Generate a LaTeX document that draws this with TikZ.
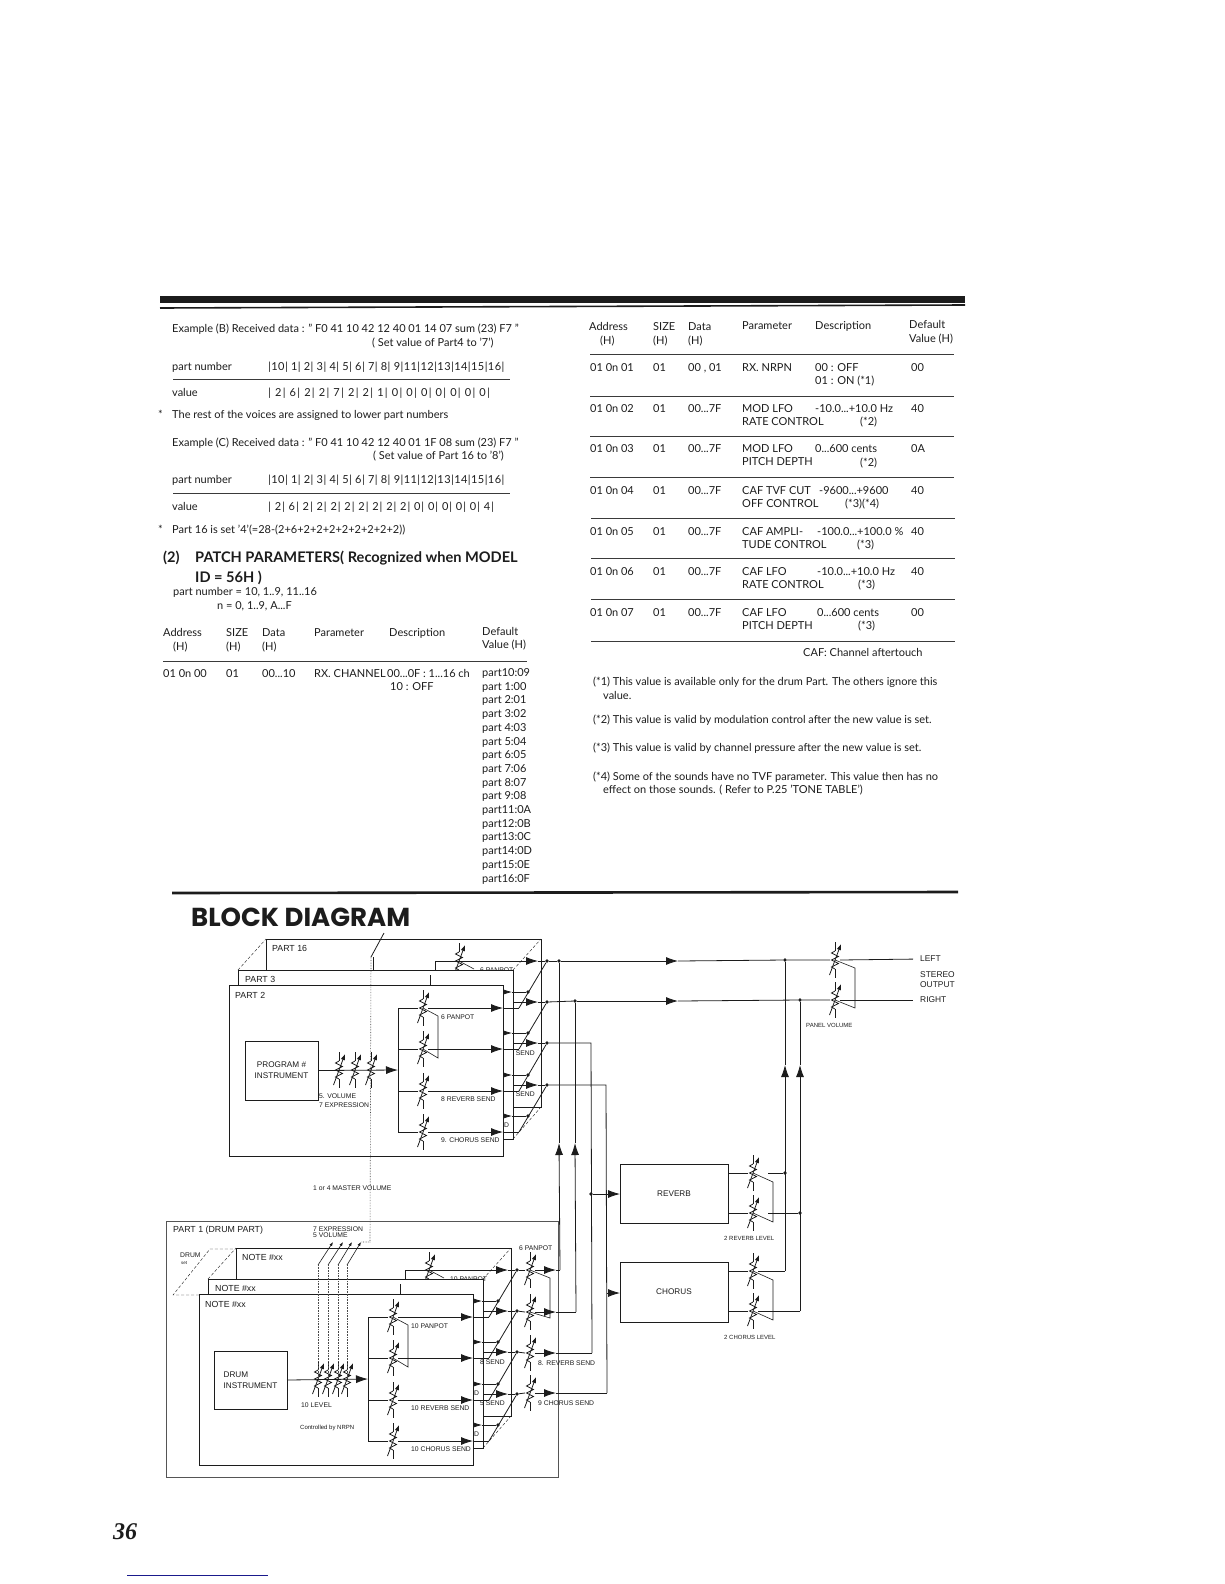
\documentclass[tikz,border=0pt]{standalone}
\usepackage{fontspec}
\setmainfont{Lato}
\newfontfamily\blockfont{Liberation Sans}
\newfontfamily\headfont{Poppins}
\newfontfamily\pagefont{Liberation Serif}
\usetikzlibrary{arrows.meta,positioning,calc}
\definecolor{ink}{HTML}{1C1C1C}
\definecolor{rulegray}{HTML}{3A3A3A}
\definecolor{webblue}{HTML}{1A1A8C}
\newcommand{\ddd}{...}
\newcommand{\spread}[2]{\addfontfeature{LetterSpace=#1}#2}
\tikzset{pagetext/.style={anchor=west,inner sep=0pt,yshift=-1pt,text=ink,text height=7pt,text depth=2pt,font=\fontsize{11}{12}\selectfont},headtext/.style={pagetext,text height=10pt,text depth=3pt,font=\fontsize{14.6}{16}\selectfont\bfseries},blocktext/.style={pagetext,yshift=0pt,font=\blockfont\fontsize{8.8}{10}\selectfont},smalltext/.style={pagetext,yshift=0pt,text height=5pt,text depth=1pt,font=\blockfont\fontsize{6.8}{8}\selectfont},wire/.style={draw=ink,line width=.8pt},sig/.style={wire,-{Latex[length=12pt,width=8pt]}},ganged/.style={draw=ink,line width=.6pt},dashline/.style={draw=ink,line width=.4pt,densely dashed},dotline/.style={draw=ink!80,line width=.6pt,densely dotted},blockbox/.style={draw=ink,line width=.8pt,fill=white,inner sep=0pt,outer sep=0pt,anchor=north west},unitbox/.style={blockbox,align=center,font=\blockfont\fontsize{8.2}{11}\selectfont,text=ink},dotnode/.style={circle,fill=ink,inner sep=0pt,minimum size=3.6pt},
volpot/.pic={\draw[wire] (0,-18)--(0,-9) (0,9)--(0,18);\draw[wire] (0,-9)--(-3.5,-7)--(3.5,-3.5)--(-3.5,0)--(3.5,3.5)--(-3.5,7)--(0,9);\draw[wire,-{Latex[length=6pt,width=4.5pt]}] (-5.5,15)--(6,-16);\coordinate (-c) at (0,0);\coordinate (-w) at (-5,0);\coordinate (-e) at (5,0);}}
\begin{document}
\begin{tikzpicture}[x=1pt,y=-1pt]
\useasboundingbox (0,0) rectangle (1224,1584);
% page rules
\fill[ink] (160,296) rectangle (965,303);
\draw[ink,line width=1.6pt] (160,308)--(965,305);
\draw[ink,line width=2.6pt] (172,893)--(958,892);
\foreach \xa/\xb/\py in {173/510/379,173/510/493,163/527/661,590/954/354,590/954/396,590/954/436,590/954/477,591/955/518,591/955/558,591/955/599,591/955/641}{\draw[rulegray,line width=.7pt] (\xa,\py)--(\xb,\py);}
% left column
\foreach \px/\py/\tx [count=\c] in {172/329/{Example (B) Received data : " F0 41 10 42 12 40 01 14 07 sum (23) F7 "},372/343/{( Set value of Part4 to '7')},172/367/{part number},268/367/{\spread{4}{|10| 1| 2| 3| 4| 5| 6| 7| 8| 9|11|12|13|14|15|16|}},172/393/{value},268/393/{\spread{12}{| 2| 6| 2| 2| 7| 2| 2| 1| 0| 0| 0| 0| 0| 0| 0|}},158/415/{*},172/415/{The rest of the voices are assigned to lower part numbers},172/443/{Example (C) Received data : " F0 41 10 42 12 40 01 1F 08 sum (23) F7 "},373/456/{( Set value of Part 16 to '8')},172/480/{part number},268/480/{\spread{4}{|10| 1| 2| 3| 4| 5| 6| 7| 8| 9|11|12|13|14|15|16|}},172/507/{value},268/507/{\spread{9}{| 2| 6| 2| 2| 2| 2| 2| 2| 2| 2| 0| 0| 0| 0| 0| 4|}},158/530/{*},172/530/{Part 16 is set '4'(=28-(2+6+2+2+2+2+2+2+2+2))},173/592/{part number = 10, 1..9, 11..16},217/606/{n = 0, 1..9, A\ddd F},163/633/{Address},173/647/{(H)},226/633/{SIZE},226/647/{(H)},262/633/{Data},262/647/{(H)},314/633/{Parameter},389/633/{Description},482/632/{Default},482/645/{Value (H)},163/674/{01 0n 00},226/674/{01},262/674/{00\ddd 10},314/674/{RX. CHANNEL},387/674/{00\ddd 0F : 1\ddd 16 ch},390/687/{10 : OFF}}{\node[pagetext] (lt\c) at (\px,\py) {\tx};}
\foreach \px/\py/\tx [count=\c] in {163/558/{(2)},195/558/{PATCH PARAMETERS( Recognized when MODEL},195/578/{ID = 56H )}}{\node[headtext] (hd\c) at (\px,\py) {\tx};}
\foreach \tx [count=\c from 0] in {part10:09,part 1:00,part 2:01,part 3:02,part 4:03,part 5:04,part 6:05,part 7:06,part 8:07,part 9:08,part11:0A,part12:0B,part13:0C,part14:0D,part15:0E,part16:0F}{\node[pagetext] (dv\c) at (482,673+13.7*\c) {\tx};}
% right column
\foreach \px/\py/\tx [count=\c] in {589/327/{Address},600/341/{(H)},653/327/{SIZE},653/341/{(H)},688/327/{Data},688/341/{(H)},742/326/{Parameter},815/326/{Description},909/325/{Default},909/339/{Value (H)}}{\node[pagetext] (rh\c) at (\px,\py) {\tx};}
\foreach \py/\ad/\da/\pa/\pb/\df [count=\c] in {368/{01 0n 01}/{00 , 01}/{RX. NRPN}/{}/00,409/{01 0n 02}/{00\ddd 7F}/{MOD LFO}/{RATE CONTROL}/40,449/{01 0n 03}/{00\ddd 7F}/{MOD LFO}/{PITCH DEPTH}/0A,491/{01 0n 04}/{00\ddd 7F}/{CAF TVF CUT}/{OFF CONTROL}/40,532/{01 0n 05}/{00\ddd 7F}/{CAF AMPLI-}/{TUDE CONTROL}/40,572/{01 0n 06}/{00\ddd 7F}/{CAF LFO}/{RATE CONTROL}/40,613/{01 0n 07}/{00\ddd 7F}/{CAF LFO}/{PITCH DEPTH}/00}{
\node[pagetext] (ad\c) at (590,\py) {\ad};
\node[pagetext] (sz\c) at (653,\py) {01};
\node[pagetext] (da\c) at (688,\py) {\da};
\node[pagetext] (pa\c) at (742,\py) {\pa};
\node[pagetext] (pb\c) at (742,\py+13) {\pb};
\node[pagetext] (df\c) at (911,\py) {\df};}
\foreach \px/\py/\tx [count=\c] in {815/368/{00 : OFF},815/381/{01 : ON (*1)},815/409/{-10.0\ddd +10.0 Hz},860/422/{(*2)},815/449/{0\ddd 600 cents},860/463/{(*2)},819/491/{-9600\ddd +9600},845/504/{(*3)(*4)},817/532/{-100.0\ddd +100.0 \%},857/545/{(*3)},817/572/{-10.0\ddd +10.0 Hz},858/585/{(*3)},817/613/{0\ddd 600 cents},858/626/{(*3)},803/653/{CAF: Channel aftertouch},593/682/{(*1) This value is available only for the drum Part. The others ignore this},603/696/{value.},593/720/{(*2) This value is valid by modulation control after the new value is set.},593/748/{(*3) This value is valid by channel pressure after the new value is set.},593/777/{(*4) Some of the sounds have no TVF parameter. This value then has no},603/790/{effect on those sounds. ( Refer to P.25 'TONE TABLE')}}{\node[pagetext] (ds\c) at (\px,\py) {\tx};}
% title and page number
\node[anchor=west,inner sep=0pt,text=ink,font=\headfont\fontsize{26}{28}\selectfont\bfseries] (blocktitle) at (191,917) {BLOCK DIAGRAM};
\node[anchor=west,inner sep=0pt,text=ink,font=\pagefont\fontsize{24}{26}\selectfont\bfseries\itshape] (pageno) at (113,1532) {36};
\draw[webblue,line width=1pt] (127,1575)--(268,1575);
% outer drum box
\node[blockbox,minimum width=392pt,minimum height=256pt,draw=ink!75] (part1) at (166,1221) {};
\node[blocktext] (part1lab) at (173,1229) {PART 1 (DRUM PART)};
\node[smalltext] (exprlab) at (313,1228) {7 EXPRESSION};
\node[smalltext] (vollab) at (313,1234) {5 VOLUME};
\node[smalltext] (drumlab) at (180,1254) {DRUM};
\node[smalltext,font=\blockfont\fontsize{4.5}{5}\selectfont] (setlab) at (181,1261) {set};
\draw[dashline] (199,1295)--(173,1295)--(210,1249)--(236,1249);
% the two stacks of voice layers
\foreach \sf/\dx/\dy/\la/\lb/\lc/\pan/\rev/\cho/\pb/\sa/\sb in {p/0/0/{PART 16}/{PART 3}/{PART 2}/{6 PANPOT}/{8 REVERB SEND}/{9. CHORUS SEND}/{6 PANPOT}/{SEND}/{SEND},d/-30/309/{NOTE \#xx}/{NOTE \#xx}/{NOTE \#xx}/{10 PANPOT}/{10 REVERB SEND}/{10 CHORUS SEND}/{10 PANPOT}/{8 SEND}/{5 SEND}}{
\begin{scope}[shift={(\dx,\dy)}]
% back layer
\node[blockbox,minimum width=275pt,minimum height=168pt] (bk\sf) at (266,939) {};
\node[blocktext] (bl\sf) at (272,948) {\la};
\foreach \i/\py in {1/961,2/1002,3/1043,4/1085}{
\node[dotnode] (h\sf\i) at (547,\py) {};
\coordinate (ht\sf\i) at (538,\py);
\coordinate (hb\sf\i) at (435,\py);
\draw[sig] (hb\sf\i)--(ht\sf\i);
\draw[wire] (ht\sf\i)--(h\sf\i);}
\draw[wire] (hb\sf1)--++(0,10);
\pic (potb\sf) at (459,961) {volpot};
\draw[ganged] (potb\sf-c)--++(15,8);
\node[smalltext] (bp\sf) at (480,969) {\pb};
% middle layer
\node[blockbox,minimum width=275pt,minimum height=169pt] (md\sf) at (238,970) {};
\node[blocktext] (ml\sf) at (245,979) {\lb};
\draw[dashline] (md\sf.north west)--(bk\sf.north west) (md\sf.north east)--(bk\sf.north east) (md\sf.south east)--(bk\sf.south east);
\draw[wire] (430,975)--(430,985);
\node[smalltext,anchor=east] (se\sf1) at (535,1052) {\sa};
\node[smalltext,anchor=east] (se\sf2) at (535,1093) {\sb};
\foreach \i/\py in {1/992,2/1033,3/1075,4/1116}{
\node[dotnode] (m\sf\i) at (528,\py) {};
\coordinate (mt\sf\i) at (512,\py);
\coordinate (mb\sf\i) at (490,\py);
\draw[sig] (mb\sf\i)--(mt\sf\i);
\draw[wire] (mt\sf\i)--(m\sf\i);}
% front layer
\node[blockbox,minimum width=274pt,minimum height=171pt] (fr\sf) at (229,985) {};
\node[blocktext] (fl\sf) at (235,995) {\lc};
\coordinate (bus\sf) at (398,1070);
\foreach \i/\py in {1/1008,2/1049,3/1091,4/1132}{
\coordinate (bs\sf\i) at (398,\py);
\coordinate (ft\sf\i) at (503,\py);
\coordinate (fe\sf\i) at (519,\py);
\pic (pot\sf\i) at (423,\py) {volpot};
\draw[wire] (bs\sf\i)--(pot\sf\i-w);
\draw[sig] (pot\sf\i-e)--(ft\sf\i);
\draw[wire] (ft\sf\i)--(fe\sf\i);
\draw[wire] (fe\sf\i)--(h\sf\i);}
\draw[wire] (bs\sf1)--(bs\sf4);
\draw[ganged] (pot\sf1-c)--++(15,8)--++(0,42)--(pot\sf2-c);
\node[smalltext] (fp\sf) at (441,1016) {\pan};
\node[smalltext] (fv\sf) at (441,1098) {\rev};
\node[smalltext] (fc\sf) at (441,1139) {\cho};
\node[smalltext] (dp\sf) at (504,1124) {D};
\end{scope}}
\node[smalltext] (dq) at (474,1392) {D};
% program path of the parts
\node[unitbox,minimum width=73pt,minimum height=59pt] (prog) at (245,1041) {PROGRAM \#\\INSTRUMENT};
\foreach \i/\px in {1/339,2/355,3/371}{\pic (vol\i) at (\px,1070) {volpot};}
\draw[sig] (prog.east)--(busp);
\node[smalltext] (vl) at (319,1095) {5. VOLUME};
\node[smalltext] (el) at (319,1104) {7 EXPRESSION};
\node[smalltext] (mv) at (313,1187) {1 or 4 MASTER VOLUME};
% master volume
\coordinate (mvtop) at (384,933);
\coordinate (mvbend) at (371,957);
\coordinate (mvlow) at (370,1242);
\coordinate (mvd) at (361,1242);
\draw[wire] (mvtop)--(mvbend);
\draw[wire] (373,957)--(373,970);
\draw[dotline] (mvbend)--(mvlow)--(mvd);
% program path of the drums
\node[unitbox,minimum width=73pt,minimum height=58pt,align=left] (drum) at (214,1351) {DRUM\\INSTRUMENT};
\foreach \i/\px/\pt in {1/318/333,2/328/343,3/338/352,4/347/361}{
\coordinate (dt\i) at (\pt,1242);
\coordinate (ds\i) at (\px,1265);
\pic (lev\i) at (\px,1379) {volpot};
\draw[ganged,-{Latex[length=4pt,width=3pt]}] (ds\i)--(dt\i);
\draw[dotline] (ds\i)--(lev\i-c);}
\draw[sig] (drum.east)--(busd);
\node[smalltext] (ll) at (301,1404) {10 LEVEL};
\node[smalltext,font=\blockfont\fontsize{6}{7}\selectfont] (nrpn) at (300,1426) {Controlled by NRPN};
% drum output section
\node[smalltext] (po) at (519,1247) {6 PANPOT};
\node[smalltext] (pr) at (538,1362) {8. REVERB SEND};
\node[smalltext] (pc) at (538,1402) {9 CHORUS SEND};
\foreach \i/\py/\px in {1/1270/560,2/1312/576,3/1353/592,4/1393/607}{
\pic (out\i) at (530,\py) {volpot};
\coordinate (ot\i) at (556,\py);
\coordinate (ob\i) at (\px,\py);
\draw[wire] (hd\i)--(out\i-w);
\draw[sig] (out\i-e)--(ot\i);
\draw[wire] (ot\i)--(ob\i);}
\draw[ganged] (out1-c)--++(20,8)--++(0,40)--(out2-c);
% stereo bus
\node[dotnode] (jl) at (559,961) {};
\node[dotnode] (jr) at (575,1001) {};
\coordinate (al) at (559,1143);
\coordinate (ar) at (575,1143);
\draw[sig] (ob1)--(al);
\draw[wire] (al)--(jl);
\draw[sig] (ob2)--(ar);
\draw[wire] (ar)--(jr);
% effects
\node[unitbox,minimum width=108pt,minimum height=59pt] (rvb) at (620,1164) {REVERB};
\node[unitbox,minimum width=108pt,minimum height=60pt] (chr) at (620,1262) {CHORUS};
\node[dotnode] (jv) at (591,1194) {};
\coordinate (rtop) at (591,1043);
\coordinate (ctop) at (606,1085);
\coordinate (rj) at (620,1194);
\coordinate (cj) at (607,1293);
\draw[wire] (hp3)--(rtop)--(ob3);
\draw[wire] (hp4)--(ctop)--(ob4);
\draw[sig] (jv)--(rj);
\draw[sig] (cj)--(chr.west |- cj);
\foreach \nm/\py in {r1/1173,r2/1213,c1/1271,c2/1311}{\pic (fx\nm) at (753,\py) {volpot};}
\draw[wire] (rvb.east |- fxr1-w)--(fxr1-w) (rvb.east |- fxr2-w)--(fxr2-w);
\draw[wire] (chr.east |- fxc1-w)--(fxc1-w) (chr.east |- fxc2-w)--(fxc2-w);
\draw[ganged] (fxr1-c)--++(20,9)--++(0,40)--(fxr2-c);
\draw[ganged] (fxc1-c)--++(20,9)--++(0,40)--(fxc2-c);
\node[smalltext,font=\blockfont\fontsize{6}{7}\selectfont] (rl) at (724,1237) {2 REVERB LEVEL};
\node[smalltext,font=\blockfont\fontsize{6}{7}\selectfont] (cl) at (724,1336) {2 CHORUS LEVEL};
% return lines and panel volume
\node[dotnode] (jla) at (785,960) {};
\node[dotnode] (jra) at (800,1000) {};
\node[dotnode] (jrb) at (785,1173) {};
\node[dotnode] (jrc) at (800,1213) {};
\coordinate (cbl) at (785,1271);
\coordinate (cbr) at (800,1311);
\coordinate (upl) at (785,1065);
\coordinate (upr) at (800,1065);
\draw[wire,shorten <=10pt] (fxr1-e)--(jrb);
\draw[wire,shorten <=10pt] (fxr2-e)--(jrc);
\draw[wire] (fxc1-e)--(cbl) (fxc2-e)--(cbr);
\draw[sig] (cbl)--(upl);
\draw[wire] (upl)--(jla);
\draw[sig] (cbr)--(upr);
\draw[wire] (upr)--(jra);
\pic (panl) at (835,960) {volpot};
\pic (panr) at (835,1000) {volpot};
\draw[ganged] (panl-c)--++(20,8)--++(0,40)--(panr-c);
\node[blocktext,font=\blockfont\fontsize{8.4}{10}\selectfont] (lft) at (920,958) {LEFT};
\node[blocktext,font=\blockfont\fontsize{8.4}{10}\selectfont] (st) at (920,974) {STEREO};
\node[blocktext,font=\blockfont\fontsize{8.4}{10}\selectfont] (ou) at (920,984) {OUTPUT};
\node[blocktext,font=\blockfont\fontsize{8.4}{10}\selectfont] (rgt) at (920,999) {RIGHT};
\node[smalltext,font=\blockfont\fontsize{6}{7}\selectfont] (pv) at (806,1024) {PANEL VOLUME};
\coordinate (al1) at (678,961);
\coordinate (al2) at (678,1001);
\draw[wire] (hp1)--(jl);
\draw[sig] (jl)--(al1);
\draw[wire] (al1)--(jla)--(panl-w);
\draw[wire,shorten >=7pt] (panl-e)--(lft.west);
\draw[wire] (hp2)--(jr);
\draw[sig] (jr)--(al2);
\draw[wire] (al2)--(jra)--(panr-w);
\draw[wire,shorten >=7pt] (panr-e)--(rgt.west);
\end{tikzpicture}
\end{document}
